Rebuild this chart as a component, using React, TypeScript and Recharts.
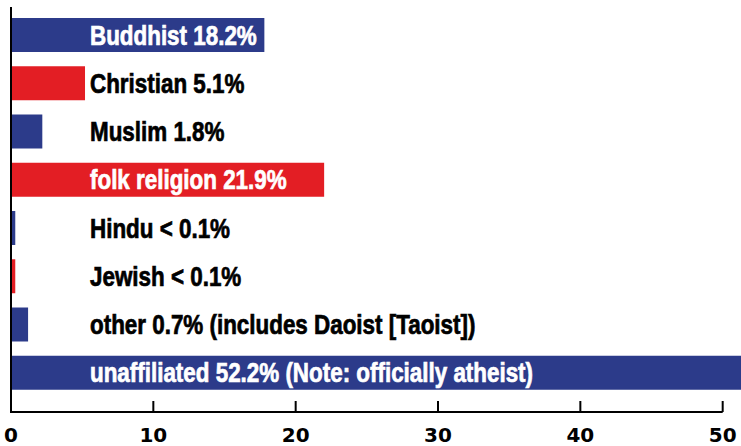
import React from "react";
import { BarChart, Bar, XAxis, YAxis, Cell, LabelList, ReferenceArea } from "recharts";

const categories = ["Buddhist", "Christian", "Muslim", "folk religion", "Hindu", "Jewish", "other", "unaffiliated"];
const barValues = [17.8, 5.2, 2.2, 22.0, 0.3, 0.3, 1.2, 52.2];
const labels = [
  "Buddhist 18.2%",
  "Christian 5.1%",
  "Muslim 1.8%",
  "folk religion 21.9%",
  "Hindu < 0.1%",
  "Jewish < 0.1%",
  "other 0.7% (includes Daoist [Taoist])",
  "unaffiliated 52.2% (Note: officially atheist)",
];
const xTicks = [0, 10, 20, 30, 40, 50];

const BLUE = "#2C3B8A";
const RED = "#E31E24";
const barColors = [BLUE, RED, BLUE, RED, BLUE, RED, BLUE, BLUE];

const data = categories.map((name, i) => ({ name, value: barValues[i], label: labels[i] }));

const W = 741;
const H = 446;
const M_TOP = 7;
const M_LEFT = 10;
const Y_W = 1;
const M_RIGHT = -13;
const X_H = 34;
const AXIS_Y = H - X_H;
const PLOT_W = W - M_LEFT - Y_W - M_RIGHT;
const XMAX = Math.max(...barValues);
const AXIS_LEN = (PLOT_W * xTicks[xTicks.length - 1]) / XMAX;

const AxisTick = (props: any) => {
  const { x, y, payload } = props;
  return (
    <g>
      <line x1={x} x2={x} y1={y - 11} y2={y} stroke="#000" strokeWidth={2} />
      <text
        x={x}
        y={y + 30}
        textAnchor="middle"
        fontFamily="DejaVu Sans"
        fontWeight="bold"
        fontSize={20}
        fill="#000"
      >
        {payload.value}
      </text>
    </g>
  );
};

const BarLabel = (props: any) => {
  const { x, y, width, height, value, index } = props;
  const inside = width > 150;
  const tx = x + 79;
  const ty = y + height / 2;
  const c = inside ? "#fff" : "#000";
  return (
    <g>
      {index === 0 || value === labels[0] ? (
        <line x1={x} x2={x} y1={M_TOP} y2={AXIS_Y + 1} stroke="#000" strokeWidth={2} />
      ) : null}
      <text
        transform={`translate(${tx},${ty}) scale(0.83,1)`}
        x={0}
        y={0}
        dy="0.36em"
        fontFamily="'Liberation Sans', Arial, sans-serif"
        fontWeight="bold"
        fontSize={27}
        fill={c}
        stroke={c}
        strokeWidth={0.7}
      >
        {value}
      </text>
    </g>
  );
};

export default function App() {
  return (
    <div style={{ position: "fixed", left: 0, top: 0, width: W, height: H, background: "#fff", overflow: "hidden" }}>
      <BarChart
        width={W}
        height={H}
        data={data}
        layout="vertical"
        margin={{ top: M_TOP, right: M_RIGHT, bottom: 0, left: M_LEFT }}
        barSize={34}
      >
        <XAxis
          type="number"
          domain={[0, "dataMax"]}
          ticks={xTicks}
          interval={0}
          height={X_H}
          tickSize={0}
          tickMargin={0}
          tickLine={false}
          axisLine={{ stroke: "#000", strokeWidth: 2, strokeDasharray: `${AXIS_LEN} 2000` }}
          tick={<AxisTick />}
        />
        <YAxis
          type="category"
          dataKey="name"
          width={Y_W}
          tick={false}
          tickLine={false}
          axisLine={false}
          padding={{ top: 4, bottom: 15 }}
        />
        <Bar dataKey="value" isAnimationActive={false}>
          {data.map((d, i) => (
            <Cell key={d.name} fill={barColors[i]} />
          ))}
          <LabelList dataKey="label" content={<BarLabel />} />
        </Bar>
        <ReferenceArea x1={0} x2={0.07} fill="#000" fillOpacity={1} ifOverflow="visible" />
      </BarChart>
    </div>
  );
}
